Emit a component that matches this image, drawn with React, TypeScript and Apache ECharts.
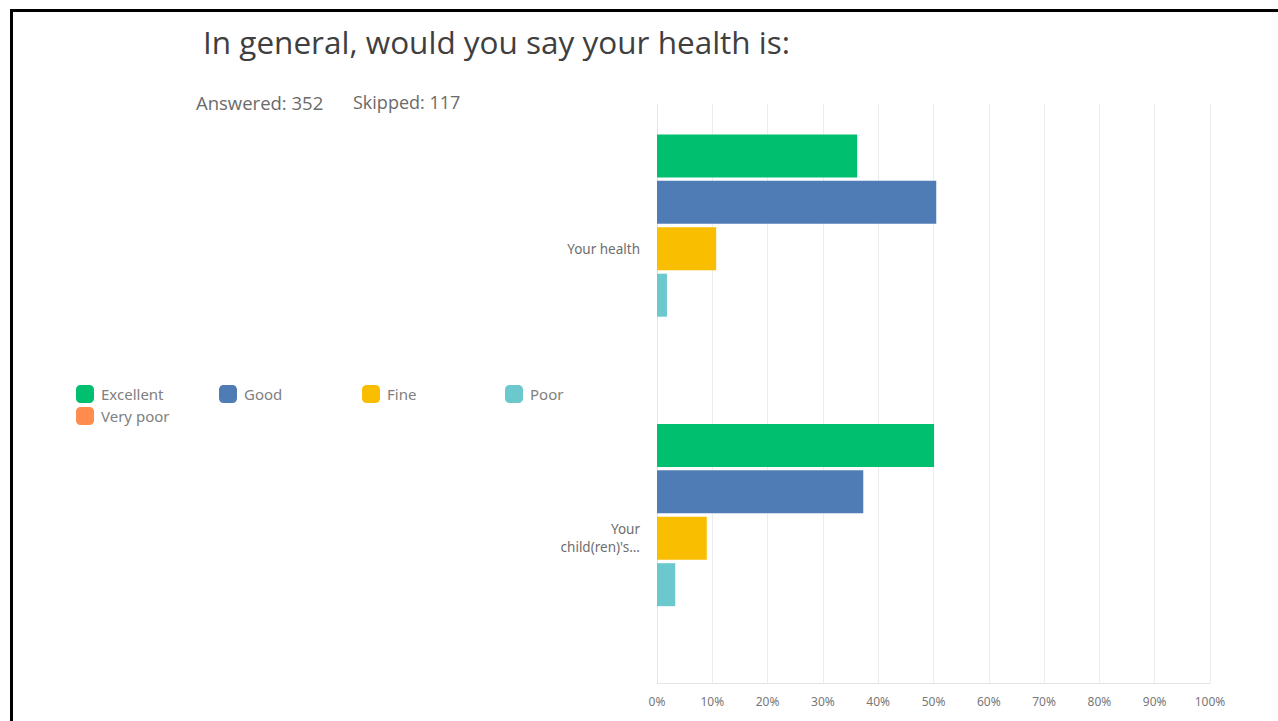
import React, { useEffect, useRef } from "react";
import * as echarts from "echarts";

const categories = ["Your health", "Your\nchild(ren)'s..."];
const seriesNames = ["Excellent", "Good", "Fine", "Poor", "Very poor"];
const excellent = [36.2, 50.1];
const good = [50.5, 37.3];
const fine = [10.7, 9.0];
const poor = [1.8, 3.3];
const veryPoor = [0, 0];
const colors = ["#00BF6F", "#507CB6", "#F9BE00", "#6BC8CD", "#FF8B4F"];

export default function App() {
  const ref = useRef<HTMLDivElement>(null);
  useEffect(() => {
    if (!ref.current) return;
    const chart = echarts.init(ref.current, undefined, { renderer: "svg" });
    const values = [excellent, good, fine, poor, veryPoor];
    const legendPos = [
      [76, 385],
      [219, 385],
      [362, 385],
      [505, 385],
      [76, 407],
    ];
    chart.setOption({
      animation: false,
      backgroundColor: "#ffffff",
      color: colors,
      graphic: [
        { type: "rect", shape: { x: 10, y: 9, width: 1268, height: 3 }, style: { fill: "#000" } },
        { type: "rect", shape: { x: 10, y: 9, width: 3, height: 712 }, style: { fill: "#000" } },
        {
          type: "text",
          left: 203,
          top: 25,
          style: { text: "In general, would you say your health is:", fontSize: 31.5, fontFamily: "Open Sans", fill: "#3f3f3f" },
        },
        {
          type: "text",
          left: 196,
          top: 93,
          style: { text: "Answered: 352", fontSize: 18.5, fontFamily: "Open Sans", fill: "#6b6b6b" },
        },
        {
          type: "text",
          left: 353,
          top: 93,
          style: { text: "Skipped: 117", fontSize: 18, fontFamily: "Open Sans", fill: "#6b6b6b" },
        },
      ],
      legend: seriesNames.map((name, i) => ({
        left: legendPos[i][0],
        top: legendPos[i][1],
        data: [name],
        icon: "roundRect",
        itemWidth: 18,
        itemHeight: 18,
        padding: 0,
        textStyle: { fontSize: 15, color: "#808080", fontFamily: "Noto Sans", padding: [0, 0, 0, 2] },
      })),
      grid: { left: 657, right: 68, top: 104, bottom: 38, containLabel: false },
      xAxis: {
        type: "value",
        min: 0,
        max: 100,
        interval: 10,
        axisLine: { show: true, lineStyle: { color: "#e4e4e4" } },
        axisTick: { show: false },
        axisLabel: { formatter: "{value}%", color: "#777", fontSize: 12, margin: 12, fontFamily: "Noto Sans" },
        splitLine: { show: true, lineStyle: { color: "#ececec" } },
      },
      yAxis: {
        type: "category",
        inverse: true,
        data: categories,
        axisLine: { show: true, lineStyle: { color: "#e4e4e4" } },
        axisTick: { show: false },
        axisLabel: { color: "#6e6e6e", fontSize: 13.5, margin: 17, lineHeight: 18, align: "right", fontFamily: "Noto Sans" },
      },
      series: seriesNames.map((name, i) => ({
        name,
        type: "bar",
        data: values[i],
        barCategoryGap: "21%",
        barGap: "8%",
        itemStyle: { color: colors[i] },
      })),
    });
    return () => chart.dispose();
  }, []);
  return <div ref={ref} style={{ position: "fixed", left: 0, top: 0, width: 1278, height: 721 }} />;
}
